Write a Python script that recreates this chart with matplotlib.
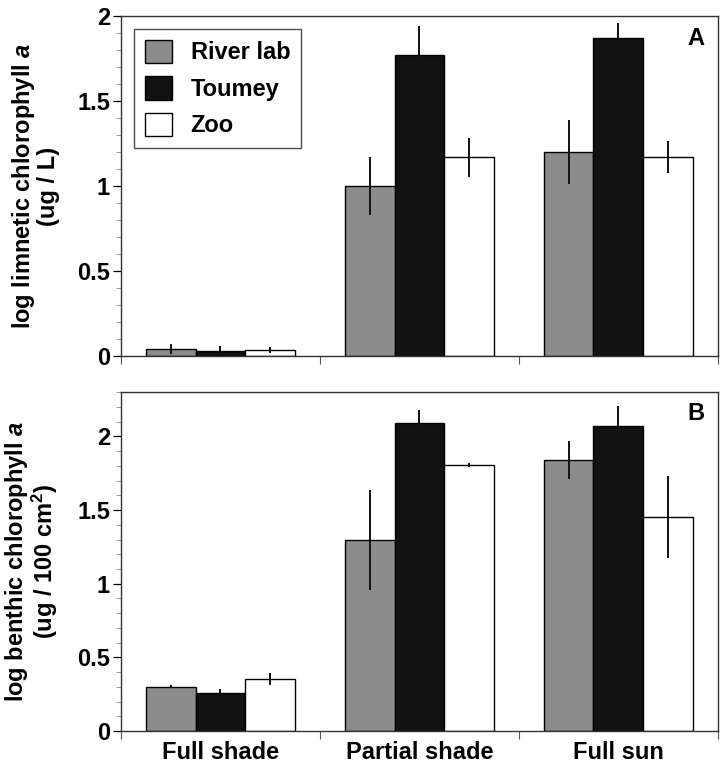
import numpy as np
import matplotlib.pyplot as plt
from matplotlib.ticker import MultipleLocator

plt.rcParams['font.family'] = ['Liberation Sans', 'DejaVu Sans']
plt.rcParams['font.weight'] = 'bold'
plt.rcParams['mathtext.fontset'] = 'custom'
plt.rcParams['mathtext.rm'] = 'Liberation Sans:bold'
plt.rcParams['mathtext.it'] = 'Liberation Sans:italic:bold'
plt.rcParams['mathtext.bf'] = 'Liberation Sans:bold'

categories = ['Full shade', 'Partial shade', 'Full sun']
sites = ['River lab', 'Toumey', 'Zoo']
colors = ['#8c8c8c', '#121212', '#ffffff']

# panel A: log limnetic chlorophyll a
limnetic = [[0.04, 1.00, 1.20],
            [0.03, 1.77, 1.87],
            [0.035, 1.17, 1.17]]
limnetic_err = [[0.03, 0.17, 0.19],
                [0.03, 0.17, 0.09],
                [0.02, 0.115, 0.095]]

# panel B: log benthic chlorophyll a
benthic = [[0.30, 1.30, 1.84],
           [0.26, 2.095, 2.07],
           [0.355, 1.805, 1.455]]
benthic_err = [[0.01, 0.34, 0.13],
               [0.025, 0.085, 0.14],
               [0.04, 0.015, 0.28]]

fig = plt.figure(figsize=(7.25, 7.67), dpi=100)
axA = fig.add_axes([0.1669, 0.5359, 0.8231, 0.4431])
axB = fig.add_axes([0.1669, 0.0469, 0.8231, 0.4416])

x = np.arange(len(categories))
w = 0.25
fs = 17


def draw(ax, vals, errs, ymax, major, label, tag, tag_y, show_x):
    for i, site in enumerate(sites):
        ax.bar(x + (i - 1) * w, vals[i], w, color=colors[i], edgecolor='black',
               linewidth=1.0, label=site, zorder=2)
        ax.errorbar(x + (i - 1) * w, vals[i], yerr=errs[i], fmt='none',
                    ecolor='#111111', elinewidth=1.4, capsize=0, zorder=3)
    ax.set_xlim(-0.5, 2.5)
    ax.set_ylim(0, ymax)
    ax.yaxis.set_major_locator(MultipleLocator(major))
    ax.yaxis.set_minor_locator(MultipleLocator(0.1))
    ax.yaxis.set_major_formatter(plt.FuncFormatter(lambda v, p: f'{v:g}'))
    ax.set_xticks([-0.5, 0.5, 1.5, 2.5])
    ax.set_xticklabels([])
    ax.tick_params(axis='x', which='major', direction='out', length=6, width=0.8, color='#555555')
    if show_x:
        ax.set_xticks(x, minor=True)
        ax.set_xticklabels(categories, minor=True, fontsize=fs, fontweight='bold')
        ax.tick_params(axis='x', which='minor', length=0, pad=7)
    ax.tick_params(axis='y', which='major', direction='out', length=6, width=0.9,
                   labelsize=fs, pad=2)
    ax.tick_params(axis='y', which='minor', direction='out', length=3.5, width=0.6,
                   color='#888888')
    for s in ax.spines.values():
        s.set_linewidth(1.0)
        s.set_color('#333333')
    ax.set_ylabel(label, fontsize=fs, fontweight='bold', linespacing=1.0, labelpad=12)
    ax.text(0.978, tag_y, tag, transform=ax.transAxes, ha='right', va='top',
            fontsize=fs, fontweight='bold')


draw(axA, limnetic, limnetic_err, 2.0, 0.5,
     'log limnetic chlorophyll $a$\n(ug / L)', 'A', 0.968, False)
draw(axB, benthic, benthic_err, 2.3, 0.5,
     'log benthic chlorophyll $a$\n(ug / 100 cm$^2$)', 'B', 0.972, True)

leg = axA.legend(loc='upper left', fontsize=fs, frameon=True, fancybox=False,
                 edgecolor='#222222', handlelength=1.15, handleheight=1.15,
                 labelspacing=0.5, borderpad=0.45, handletextpad=0.8,
                 borderaxespad=0.55)
leg.get_frame().set_linewidth(1.0)
for t in leg.get_texts():
    t.set_fontweight('bold')

fig.savefig('out.png', dpi=100)
